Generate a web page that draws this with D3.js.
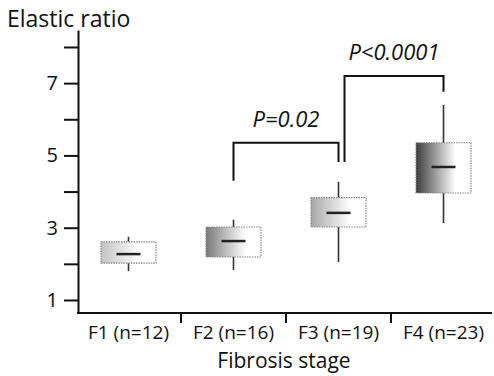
<!DOCTYPE html>
<html><head><meta charset="utf-8">
<script src="https://cdn.jsdelivr.net/npm/d3@7"></script>
<style>body{margin:0;background:#fff}svg{display:block}text{font-family:"Open Sans",Lato,sans-serif;fill:#111}</style>
</head><body><svg id="c" width="494" height="376"></svg>
<script>
const categories = ["F1 (n=12)", "F2 (n=16)", "F3 (n=19)", "F4 (n=23)"];
const minVals    = [1.80, 1.83, 2.05, 3.13];
const q1Vals     = [2.02, 2.19, 3.02, 3.96];
const medianVals = [2.27, 2.63, 3.41, 4.68];
const q3Vals     = [2.61, 3.02, 3.83, 5.35];
const maxVals    = [2.75, 3.22, 4.27, 6.40];
const shadeDark  = ["#c4c4c4", "#7a7a7a", "#a8a8a8", "#3c3c3c"];
const yTicks = [1, 2, 3, 4, 5, 6, 7, 8];
const yLabels = [1, 3, 5, 7];
const comparisons = [
  {from: 1, to: 2, label: "P=0.02", top: 5.35, leftEnd: 4.30, rightEnd: 4.82},
  {from: 2, to: 3, label: "P<0.0001", top: 7.2, leftEnd: 4.82, rightEnd: 6.76}
];
const yTitle = "Elastic ratio";
const xTitle = "Fibrosis stage";

const svg = d3.select("#c");
const x = d3.scaleBand().domain(categories).range([76, 496]);
const y = d3.scaleLinear().domain([0.64, 8.47]).range([313, 30]);
const cx = c => x(c) + x.bandwidth() / 2;
const boxW = 55, medW = 24;

const defs = svg.append("defs");
categories.forEach((c, i) => {
  const g = defs.append("linearGradient").attr("id", "g" + i).attr("x1", "0").attr("x2", "1").attr("y1", "0").attr("y2", "0");
  g.append("stop").attr("offset", "0").attr("stop-color", shadeDark[i]);
  g.append("stop").attr("offset", "0.72").attr("stop-color", "#ffffff");
  g.append("stop").attr("offset", "1").attr("stop-color", "#ffffff");
});

// y axis
const yAxis = d3.axisLeft(y).tickValues(yTicks).tickSize(14).tickSizeOuter(0)
  .tickFormat(d => yLabels.includes(d) ? d : "");
const ya = svg.append("g").attr("transform", "translate(78,0)").call(yAxis);
ya.select(".domain").attr("stroke", "#111").attr("stroke-width", 2);
ya.selectAll(".tick line").attr("stroke", "#111").attr("stroke-width", 2);
ya.selectAll(".tick text").attr("font-size", 20).attr("x", -20).attr("fill", "#111")
  .style("font-family", "'Open Sans', Lato, sans-serif");

// x axis line and separators
svg.append("line").attr("x1", 77).attr("x2", 492).attr("y1", y(0.64)).attr("y2", y(0.64))
  .attr("stroke", "#111").attr("stroke-width", 2);
categories.slice(0, 3).forEach(c => {
  const xs = x(c) + x.bandwidth();
  svg.append("line").attr("x1", xs).attr("x2", xs).attr("y1", y(0.64)).attr("y2", y(0.64) + 10)
    .attr("stroke", "#111").attr("stroke-width", 2);
});
categories.forEach(c => {
  svg.append("text").attr("x", cx(c)).attr("y", 339).attr("text-anchor", "middle")
    .attr("font-size", 19).text(c);
});
svg.append("text").attr("x", 284).attr("y", 368).attr("text-anchor", "middle").attr("font-size", 21).text(xTitle);
svg.append("text").attr("x", 7).attr("y", 27).attr("font-size", 23).text(yTitle);

// boxes
categories.forEach((c, i) => {
  const X = cx(c);
  svg.append("line").attr("x1", X).attr("x2", X).attr("y1", y(maxVals[i])).attr("y2", y(q3Vals[i]))
    .attr("stroke", "#333").attr("stroke-width", 1.6);
  svg.append("line").attr("x1", X).attr("x2", X).attr("y1", y(q1Vals[i])).attr("y2", y(minVals[i]))
    .attr("stroke", "#333").attr("stroke-width", 1.6);
  svg.append("rect").attr("x", X - boxW / 2).attr("y", y(q3Vals[i]))
    .attr("width", boxW).attr("height", y(q1Vals[i]) - y(q3Vals[i]))
    .attr("fill", `url(#g${i})`).attr("stroke", "#888").attr("stroke-width", 1.2).attr("stroke-dasharray", "1.5,1");
  svg.append("line").attr("x1", X - medW / 2).attr("x2", X + medW / 2)
    .attr("y1", y(medianVals[i])).attr("y2", y(medianVals[i]))
    .attr("stroke", "#222").attr("stroke-width", 2.5);
});

// comparison brackets
comparisons.forEach((cmp, k) => {
  const x1 = cx(categories[cmp.from]) + (k === 1 ? 6 : 0);
  const x2 = cx(categories[cmp.to]);
  const path = d3.path();
  path.moveTo(x1, y(cmp.leftEnd));
  path.lineTo(x1, y(cmp.top));
  path.lineTo(x2, y(cmp.top));
  path.lineTo(x2, y(cmp.rightEnd));
  svg.append("path").attr("d", path.toString()).attr("fill", "none").attr("stroke", "#111").attr("stroke-width", 2);
  svg.append("text").attr("x", (x1 + x2) / 2).attr("y", y(cmp.top) - 16).attr("text-anchor", "middle")
    .attr("font-size", 22).attr("font-style", "italic").text(cmp.label);
});
</script></body></html>
